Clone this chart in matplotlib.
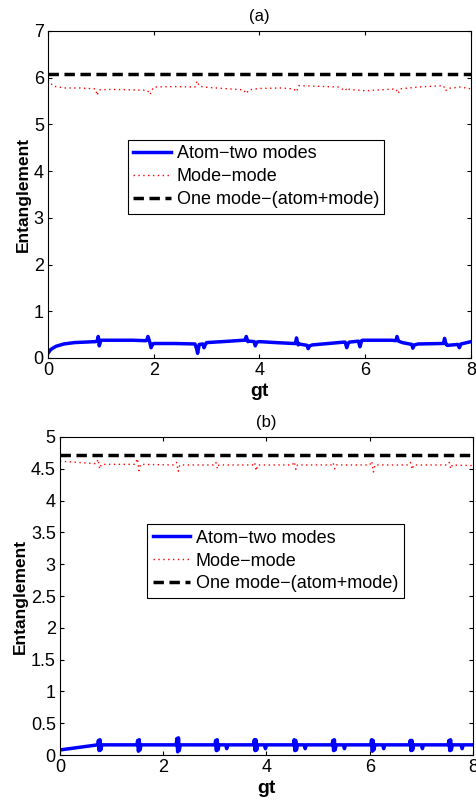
import matplotlib
matplotlib.use("Agg")
import matplotlib.pyplot as plt
import numpy as np

plt.rcParams['font.family'] = ['Liberation Sans', 'DejaVu Sans']

labels = ["Atom\u2212two modes", "Mode\u2212mode", "One mode\u2212(atom+mode)"]

# panel (a)
a_atom_t = [0, 0.05, 0.15, 0.3, 0.5, 0.7, 0.9, 0.93, 0.95, 0.97, 1.0, 1.3, 1.6, 1.85,
            1.87, 1.89, 1.92, 1.95, 1.98, 2.0, 2.4, 2.78, 2.81, 2.83, 2.86, 2.93, 2.95,
            2.98, 3.0, 3.3, 3.7, 3.73, 3.75, 3.78, 3.8, 3.9, 3.92, 3.95, 4.0, 4.3, 4.65,
            4.68, 4.7, 4.73, 4.75, 4.9, 4.92, 4.95, 5.0, 5.3, 5.6, 5.62, 5.65, 5.68, 5.7,
            5.87, 5.9, 5.93, 5.95, 6.2, 6.5, 6.58, 6.6, 6.63, 6.7, 6.88, 6.9, 6.93, 7.0,
            7.45, 7.48, 7.5, 7.53, 7.55, 7.75, 7.78, 7.81, 7.85, 8.0]
a_atom_v = [0.1, 0.18, 0.25, 0.3, 0.33, 0.34, 0.35, 0.36, 0.46, 0.26, 0.38, 0.38, 0.38, 0.37,
            0.38, 0.46, 0.36, 0.22, 0.3, 0.31, 0.31, 0.3, 0.2, 0.1, 0.29, 0.3, 0.22,
            0.3, 0.33, 0.35, 0.38, 0.38, 0.46, 0.35, 0.36, 0.35, 0.26, 0.34, 0.35, 0.33, 0.31,
            0.31, 0.43, 0.28, 0.3, 0.27, 0.2, 0.26, 0.28, 0.31, 0.34, 0.34, 0.22, 0.32, 0.34,
            0.36, 0.24, 0.37, 0.38, 0.38, 0.38, 0.37, 0.46, 0.36, 0.33, 0.29, 0.21, 0.28, 0.3,
            0.31, 0.31, 0.42, 0.29, 0.27, 0.29, 0.22, 0.3, 0.31, 0.35]

a_mode_t = [0, 0.1, 0.3, 0.6, 0.9, 0.93, 0.95, 0.98, 1.2, 1.6, 1.88, 1.93, 1.96, 2.0, 2.4,
            2.78, 2.82, 2.86, 2.95, 3.3, 3.7, 3.75, 3.8, 4.0, 4.4, 4.65, 4.7, 4.74, 5.0,
            5.5, 5.62, 5.66, 5.7, 5.9, 6.0, 6.3, 6.58, 6.62, 6.66, 7.0, 7.48, 7.52, 7.56,
            7.8, 8.0]
a_mode_v = [5.95, 5.82, 5.78, 5.78, 5.76, 5.62, 5.7, 5.74, 5.75, 5.74, 5.73, 5.64, 5.72, 5.8, 5.81,
            5.8, 5.93, 5.82, 5.8, 5.77, 5.74, 5.66, 5.74, 5.77, 5.78, 5.76, 5.7, 5.83, 5.82,
            5.8, 5.72, 5.79, 5.75, 5.73, 5.72, 5.74, 5.76, 5.66, 5.76, 5.8, 5.83, 5.72, 5.77,
            5.8, 5.76]
a_one = 6.08

# panel (b)
b_atom_t = [0, 0.73, 0.745, 0.76, 0.775, 0.79, 0.81, 1.49, 1.505, 1.52, 1.535, 1.55, 1.57,
            2.25, 2.265, 2.28, 2.295, 2.31, 2.33, 3.0, 3.015, 3.03, 3.045, 3.06, 3.08,
            3.21, 3.23, 3.25, 3.75, 3.765, 3.78, 3.795, 3.81, 3.83, 3.96, 3.98, 4.0,
            4.52, 4.535, 4.55, 4.565, 4.58, 4.6, 4.73, 4.75, 4.77, 5.27, 5.285, 5.3,
            5.315, 5.33, 5.35, 5.49, 5.51, 5.53, 6.02, 6.035, 6.05, 6.065, 6.08, 6.1,
            6.25, 6.27, 6.29, 6.77, 6.785, 6.8, 6.815, 6.83, 6.85, 7.0, 7.02, 7.04,
            7.52, 7.535, 7.55, 7.565, 7.58, 7.6, 7.77, 7.79, 7.81, 8.0]
b_atom_v = [0.08, 0.16, 0.23, 0.07, 0.24, 0.08, 0.16, 0.16, 0.23, 0.06, 0.24, 0.08, 0.16,
            0.16, 0.26, 0.05, 0.27, 0.07, 0.16, 0.16, 0.23, 0.07, 0.24, 0.08, 0.16,
            0.16, 0.1, 0.16, 0.16, 0.24, 0.07, 0.24, 0.08, 0.16, 0.16, 0.1, 0.16,
            0.16, 0.24, 0.07, 0.23, 0.08, 0.16, 0.16, 0.1, 0.16, 0.16, 0.23, 0.07,
            0.24, 0.08, 0.16, 0.16, 0.1, 0.16, 0.16, 0.24, 0.06, 0.23, 0.08, 0.16,
            0.16, 0.1, 0.16, 0.16, 0.23, 0.07, 0.23, 0.08, 0.16, 0.16, 0.1, 0.16,
            0.16, 0.23, 0.07, 0.24, 0.08, 0.16, 0.16, 0.1, 0.16, 0.16]

b_mode_t = [0, 0.7, 0.74, 0.77, 0.8, 1.45, 1.5, 1.53, 1.56, 2.22, 2.26, 2.29, 2.32, 2.98,
            3.02, 3.05, 3.08, 3.73, 3.77, 3.8, 3.83, 4.5, 4.54, 4.57, 4.6, 5.25, 5.29,
            5.32, 5.35, 6.0, 6.04, 6.07, 6.1, 6.75, 6.79, 6.82, 6.85, 7.5, 7.54, 7.57,
            7.6, 8.0]
b_mode_v = [4.62, 4.58, 4.65, 4.5, 4.57, 4.57, 4.66, 4.47, 4.57, 4.56, 4.6, 4.46, 4.56, 4.56,
            4.6, 4.5, 4.56, 4.56, 4.6, 4.47, 4.56, 4.56, 4.61, 4.49, 4.56, 4.56, 4.6,
            4.5, 4.56, 4.56, 4.62, 4.45, 4.56, 4.56, 4.6, 4.49, 4.56, 4.56, 4.6, 4.5,
            4.56, 4.55]
b_one = 4.71

fig = plt.figure(figsize=(4.76, 8.07), dpi=100)
ax1 = fig.add_axes([0.1008, 0.5564, 0.8887, 0.4052])
ax2 = fig.add_axes([0.126, 0.0644, 0.8677, 0.3941])


def draw(ax, at, av, mt, mv, one, ylim, yticks, title, leg_xy):
    ax.plot(at, av, color='blue', lw=2.5, label=labels[0])
    ax.plot(mt, mv, color='red', lw=1, ls=(0, (1, 2.5)), label=labels[1])
    ax.plot([0, 8], [one, one], color='black', lw=2.5, ls=(0, (3, 1.6)), label=labels[2])
    ax.set_xlim(0, 8)
    ax.set_ylim(*ylim)
    ax.set_xticks([0, 2, 4, 6, 8])
    ax.set_yticks(yticks)
    ax.set_yticklabels([('%g' % v) for v in yticks])
    ax.tick_params(direction='in', length=3, top=True, right=True, labelsize=13, pad=3)
    ax.set_xlabel('gt', fontsize=14, fontweight='bold', labelpad=3)
    ax.set_ylabel('Entanglement', fontsize=12.5, fontweight='bold', labelpad=2)
    ax.set_title(title, fontsize=12, pad=7)
    leg = ax.legend(loc='upper left', bbox_to_anchor=leg_xy, fontsize=13, fancybox=False,
                    framealpha=1, edgecolor='black', handlelength=2.1, handletextpad=0.3,
                    borderpad=0.3, labelspacing=0.33, borderaxespad=0)
    leg.get_frame().set_linewidth(0.8)


draw(ax1, a_atom_t, a_atom_v, a_mode_t, a_mode_v, a_one, (0, 7), [0, 1, 2, 3, 4, 5, 6, 7],
     '(a)', (0.189, 0.667))
draw(ax2, b_atom_t, b_atom_v, b_mode_t, b_mode_v, b_one, (0, 5),
     [0, 0.5, 1, 1.5, 2, 2.5, 3, 3.5, 4, 4.5, 5], '(b)', (0.211, 0.726))

fig.savefig('out.png', dpi=100)
